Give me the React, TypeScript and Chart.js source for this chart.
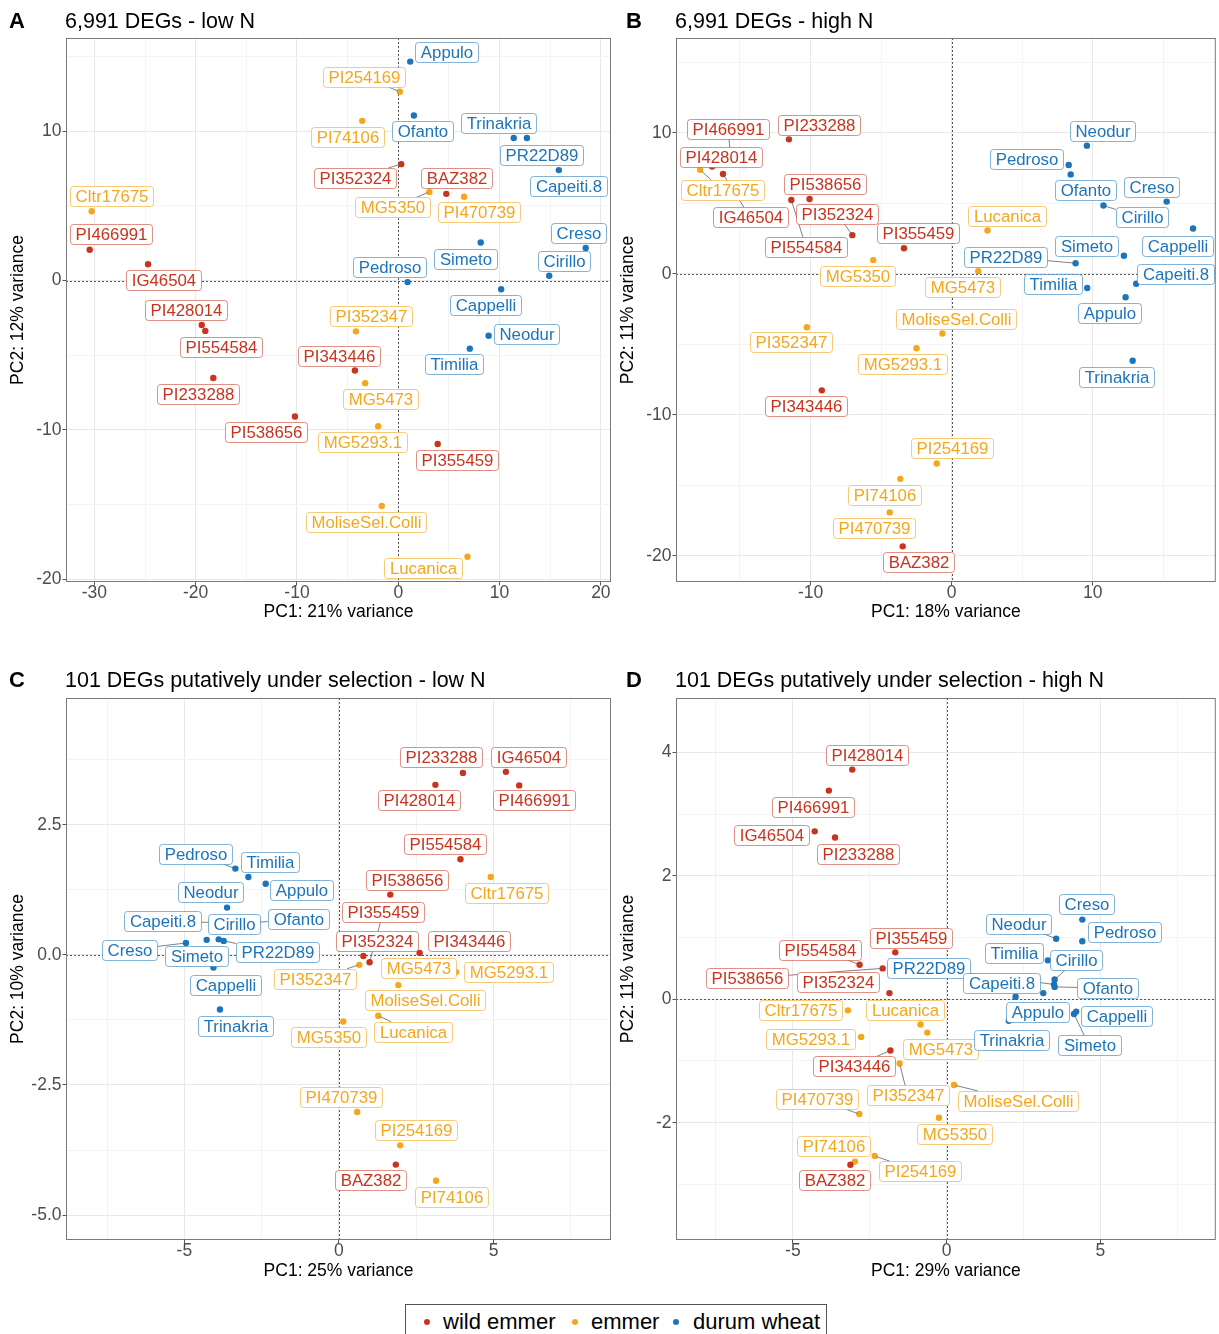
import React, { useEffect, useRef } from "react";
import { Chart, registerables } from "chart.js";

Chart.register(...registerables);

const FONT = '"Liberation Sans", Arial, Helvetica, sans-serif';
Chart.defaults.font.family = FONT;

// ---------------- species ----------------
const SPECIES_CODES = ["W", "E", "D"];
const SPECIES_NAMES = ["wild emmer", "emmer", "durum wheat"];
const SPECIES_COLORS = ["#C8341F", "#F4A71C", "#1C74BA"];
const SPECIES_BORDERS = ["rgba(200,52,31,0.55)", "rgba(244,167,28,0.6)", "rgba(28,116,186,0.55)"];

// ---------------- Panel A: 6,991 DEGs - low N ----------------
const A_names = ["Cltr17675", "PI466991", "IG46504", "PI428014", "PI554584", "PI233288", "PI538656", "Appulo", "PI254169", "PI74106", "Ofanto", "Trinakria", "PR22D89", "Capeiti.8", "PI352324", "BAZ382", "MG5350", "PI470739", "Creso", "Simeto", "Cirillo", "Pedroso", "Cappelli", "PI352347", "Neodur", "Timilia", "PI343446", "MG5473", "MG5293.1", "PI355459", "MoliseSel.Colli", "Lucanica"];
const A_species = ["E", "W", "W", "W", "W", "W", "W", "D", "E", "E", "D", "D", "D", "D", "W", "W", "E", "E", "D", "D", "D", "D", "D", "E", "D", "D", "W", "E", "E", "W", "E", "E"];
const A_pc1 = [-30.26, -30.46, -24.7, -19.4, -19.05, -18.26, -10.2, 1.18, 0.16, -3.56, 1.54, 11.4, 12.7, 15.85, 0.29, 4.74, 3.07, 6.5, 18.5, 8.14, 14.9, 0.92, 10.16, -4.18, 8.92, 7.06, -4.28, -3.27, -1.99, 3.89, -1.63, 6.83];
const A_pc2 = [4.64, 2.07, 1.09, -2.97, -3.37, -6.52, -9.1, 14.67, 12.65, 10.7, 11.06, 9.55, 9.55, 7.4, 7.8, 5.81, 5.94, 5.62, 2.18, 2.55, 0.32, -0.1, -0.58, -3.4, -3.69, -4.56, -6.02, -6.87, -9.76, -10.95, -15.1, -18.5];
const A_labelDx = [20, 21, 15, -15.7, 15.3, -15.7, -28.7, 36.3, -36.3, -14.3, 9, -15, 15, 9.3, -46.7, 10.7, -36.7, 15, -6.7, -15.7, 15, -18, -16, 15, 37.7, -16, -16, 15, -15.3, 19.3, -16, -44.3];
const A_labelDy = [-15, -15.4, 15.8, -14.6, 15.8, 15.8, 15.8, -9.5, -15, 16.2, 15.8, -14.6, 16.6, 15.4, 13.8, -16.2, 15.4, 15.8, -15, 16.2, -15, -14.6, 15.4, -15, -1.6, 15, -14.6, 15.8, 15.8, 15.8, 16, 11.5];

// ---------------- Panel B: 6,991 DEGs - high N ----------------
const B_names = ["PI466991", "PI233288", "PI428014", "Cltr17675", "IG46504", "PI538656", "PI554584", "PI352324", "PI355459", "MG5350", "PI352347", "MG5293.1", "PI343446", "PI254169", "PI74106", "PI470739", "BAZ382", "Neodur", "Pedroso", "Ofanto", "Creso", "Cirillo", "Lucanica", "Cappelli", "Simeto", "PR22D89", "MG5473", "Timilia", "Capeiti.8", "Appulo", "MoliseSel.Colli", "Trinakria"];
const B_species = ["W", "W", "W", "E", "W", "W", "W", "W", "W", "E", "E", "E", "W", "E", "E", "E", "W", "D", "D", "D", "D", "D", "E", "D", "D", "D", "E", "D", "D", "D", "E", "D"];
const B_pc1 = [-15.66, -11.53, -16.97, -17.82, -16.2, -10.07, -11.36, -7.04, -3.38, -5.56, -10.26, -2.49, -9.2, -1.06, -3.64, -4.39, -3.47, 9.58, 8.29, 8.43, 15.23, 10.75, 2.54, 17.1, 12.2, 8.78, 1.88, 9.6, 13.07, 12.32, -0.66, 12.82];
const B_pc2 = [8.36, 9.55, 7.62, 7.39, 7.09, 5.32, 5.24, 2.75, 1.82, 0.98, -3.78, -5.27, -8.26, -13.45, -14.54, -16.92, -19.33, 9.1, 7.73, 7.06, 5.13, 4.85, 3.08, 3.22, 1.29, 0.76, 0.2, -1.0, -0.7, -1.65, -4.23, -6.16];
const B_labelDx = [-2.7, 30.3, 9.3, 22, 27.3, 15.7, 14.7, -15, 13.7, -15.3, -16, -14.5, -15.7, 15.7, -15.7, -15.3, 16, 15.7, -42, 15.3, -15.3, 38.3, 19, -15.3, -37.3, -69.7, -15.7, -34.7, 39.7, -15.7, 13.5, -16];
const B_labelDy = [-27.5, -14.6, -9.1, 20.2, 43.5, -15, 47, -21, -15.2, 15.4, 15, 15.4, 15.4, -15, 15.8, 15.8, 15.4, -15, -5.5, 15.4, -14.6, 11.9, -15, 17.8, -9.9, -6.3, 16.2, -3.6, -9.5, 15.8, -15, 15.8];

// ---------------- Panel C: 101 DEGs - low N ----------------
const C_names = ["Pedroso", "Timilia", "Appulo", "Neodur", "Capeiti.8", "Cirillo", "Ofanto", "Creso", "Simeto", "PR22D89", "Cappelli", "Trinakria", "PI233288", "IG46504", "PI428014", "PI466991", "PI554584", "Cltr17675", "PI538656", "PI355459", "PI352324", "PI343446", "PI352347", "MG5473", "MoliseSel.Colli", "MG5293.1", "Lucanica", "MG5350", "PI470739", "PI254169", "BAZ382", "PI74106"];
const C_species = ["D", "D", "D", "D", "D", "D", "D", "D", "D", "D", "D", "D", "W", "W", "W", "W", "W", "E", "W", "W", "W", "W", "E", "E", "E", "E", "E", "E", "E", "E", "W", "E"];
const C_pc1 = [-3.35, -2.93, -2.37, -3.62, -3.85, -3.89, -3.2, -4.95, -4.28, -3.73, -4.06, -3.85, 4.01, 5.4, 3.12, 5.83, 3.93, 4.91, 1.66, 0.99, 0.79, 2.61, 0.66, 2.41, 1.92, 3.79, 1.27, 0.14, 0.59, 1.98, 1.84, 3.14];
const C_pc2 = [1.66, 1.5, 1.37, 0.91, 0.62, 0.3, 0.6, 0.23, 0.29, 0.27, -0.24, -1.05, 3.5, 3.52, 3.27, 3.26, 1.84, 1.5, 1.16, -0.14, -0.02, 0.04, -0.19, -0.33, -0.58, -0.33, -1.17, -1.28, -3.02, -3.66, -4.03, -4.34];
const C_labelDx = [-39.7, 21.7, 36, -16.3, -57.7, 15.7, 58.2, -56, -10, 54, 12.3, 15.3, -22, 22.7, -16, 15, -15.7, 16, 16.3, 13.7, 14, 49.7, -44.3, 5, 26.7, 52.3, 35, -14.8, -16.3, 16, -25, 15.7];
const C_labelDy = [-15, -15.4, 6.3, -15.8, -1.6, -15, -4.7, 6.8, 15.8, 11, 17.8, 16.2, -15.8, -15, 15.4, 15, -15.4, 16.2, -15, -50, -14.6, -11.9, 13.8, -4, 15, 0, 15.8, 15.8, -15, -15.4, 15.8, 15.8];

// ---------------- Panel D: 101 DEGs - high N ----------------
const D_names = ["PI428014", "PI466991", "IG46504", "PI233288", "PI355459", "PI554584", "PI538656", "PI352324", "PR22D89", "Cltr17675", "Lucanica", "MG5473", "MG5293.1", "PI343446", "PI352347", "PI470739", "MG5350", "MoliseSel.Colli", "PI254169", "PI74106", "BAZ382", "Creso", "Pedroso", "Neodur", "Timilia", "Cirillo", "Ofanto", "Capeiti.8", "Appulo", "Trinakria", "Cappelli", "Simeto"];
const D_species = ["W", "W", "W", "W", "W", "W", "W", "W", "D", "E", "E", "E", "E", "W", "E", "E", "E", "E", "E", "E", "W", "D", "D", "D", "D", "D", "D", "D", "D", "D", "D", "D"];
const D_pc1 = [-3.07, -3.83, -4.29, -3.63, -1.67, -2.83, -2.08, -1.86, 3.49, -3.21, -0.85, -0.63, -2.78, -1.83, -1.53, -2.84, -0.25, 0.24, -2.34, -2.98, -3.13, 4.41, 4.41, 3.56, 3.29, 3.51, 3.51, 2.24, 3.14, 2.02, 4.21, 4.14];
const D_pc2 = [3.72, 3.38, 2.72, 2.62, 0.76, 0.56, 0.5, 0.1, 0.24, -0.18, -0.41, -0.54, -0.61, -0.83, -1.04, -1.86, -1.92, -1.39, -2.54, -2.63, -2.68, 1.29, 0.94, 0.98, 0.63, 0.32, 0.2, 0.04, 0.1, -0.35, -0.2, -0.24];
const D_labelDx = [15, -15.7, -43.3, 23.3, 15.8, -39.3, -135.7, -51.3, -126, -47.3, -16, 13, -50.7, -36.7, 8, -42, 15.3, 64.3, 45, -22, -15.7, 4.3, 42, -37.7, -34.3, 21.7, 53.3, -14, -5.3, 2.7, 40.7, 15];
const D_labelDy = [-15, 16.2, 4, 16.2, -14.6, -15, 9.9, -10.7, -16.3, 0, -14.4, 16.7, 1.6, 15.8, 32, -15, 15.8, 15.8, 15.4, -15.4, 15.8, -15.4, -9.1, -15, -7.1, -19, 1.3, -14, 19, 19, 4.7, 31.2];

// ---------------- layout / style ----------------
const LABEL_FONT = 16.8;
const LABEL_PAD_X = 5.2;
const LABEL_H = 20;
const MIN_SEGMENT = 12.5;
const AXIS_FONT = 17.5;
const GRID_MAJOR = "#E8E8E8";
const GRID_MINOR = "#F4F4F4";

const PANELS = [
  {
    letter: "A", title: "6,991 DEGs - low N", xTitle: "PC1: 21% variance", yTitle: "PC2: 12% variance",
    names: A_names, species: A_species, pc1: A_pc1, pc2: A_pc2, ldx: A_labelDx, ldy: A_labelDy,
    xMin: -32.8, xMax: 21.0, yMin: -20.19, yMax: 16.25, xStep: 10, yStep: 10, yDec: 0,
    left: 0, top: 26, width: 616, height: 602, padTop: 12, padRight: 5, yAxisW: 66, xAxisH: 46,
    yTitlePad: 9.5, xTitlePad: 7.5, letterX: 9, titleX: 65, titleTop: 9,
  },
  {
    letter: "B", title: "6,991 DEGs - high N", xTitle: "PC1: 18% variance", yTitle: "PC2: 11% variance",
    names: B_names, species: B_species, pc1: B_pc1, pc2: B_pc2, ldx: B_labelDx, ldy: B_labelDy,
    xMin: -19.53, xMax: 18.71, yMin: -21.86, yMax: 16.74, xStep: 10, yStep: 10, yDec: 0,
    left: 612, top: 26, width: 607, height: 602, padTop: 12, padRight: 0, yAxisW: 64, xAxisH: 46,
    yTitlePad: 7.5, xTitlePad: 7.5, letterX: 626, titleX: 675, titleTop: 9,
  },
  {
    letter: "C", title: "101 DEGs putatively under selection - low N", xTitle: "PC1: 25% variance", yTitle: "PC2: 10% variance",
    names: C_names, species: C_species, pc1: C_pc1, pc2: C_pc2, ldx: C_labelDx, ldy: C_labelDy,
    xMin: -8.83, xMax: 8.8, yMin: -5.48, yMax: 4.94, xStep: 5, yStep: 2.5, yDec: 1,
    left: 0, top: 686, width: 616, height: 602, padTop: 12, padRight: 5, yAxisW: 66, xAxisH: 48,
    yTitlePad: 9.5, xTitlePad: 8, letterX: 9, titleX: 65, titleTop: 668,
  },
  {
    letter: "D", title: "101 DEGs putatively under selection - high N", xTitle: "PC1: 29% variance", yTitle: "PC2: 11% variance",
    names: D_names, species: D_species, pc1: D_pc1, pc2: D_pc2, ldx: D_labelDx, ldy: D_labelDy,
    xMin: -8.8, xMax: 8.75, yMin: -3.9, yMax: 4.88, xStep: 5, yStep: 2, yDec: 0,
    left: 612, top: 686, width: 607, height: 602, padTop: 12, padRight: 0, yAxisW: 64, xAxisH: 48,
    yTitlePad: 7.5, xTitlePad: 8, letterX: 626, titleX: 675, titleTop: 668,
  },
];

function makeTicks(min: number, max: number, step: number) {
  const half = step / 2;
  const out: { value: number }[] = [];
  const start = Math.ceil(min / half - 1e-9);
  const end = Math.floor(max / half + 1e-9);
  for (let k = start; k <= end; k++) out.push({ value: +(k * half).toFixed(6) });
  return out;
}
function isMajor(v: number, step: number) {
  const r = v / step;
  return Math.abs(r - Math.round(r)) < 1e-6;
}
function fmt(v: number, dec: number) {
  return dec > 0 ? v.toFixed(dec) : String(Math.round(v));
}

function roundRectPath(ctx: CanvasRenderingContext2D, x: number, y: number, w: number, h: number, r: number) {
  ctx.beginPath();
  ctx.moveTo(x + r, y);
  ctx.lineTo(x + w - r, y);
  ctx.arcTo(x + w, y, x + w, y + r, r);
  ctx.lineTo(x + w, y + h - r);
  ctx.arcTo(x + w, y + h, x + w - r, y + h, r);
  ctx.lineTo(x + r, y + h);
  ctx.arcTo(x, y + h, x, y + h - r, r);
  ctx.lineTo(x, y + r);
  ctx.arcTo(x, y, x + r, y, r);
  ctx.closePath();
}

function makePlugin(p: any) {
  return {
    id: "panelDecor" + p.letter,
    beforeDatasetsDraw(chart: any) {
      const { ctx, chartArea: a, scales } = chart;
      const x0 = Math.round(scales.x.getPixelForValue(0)) + 0.5;
      const y0 = Math.round(scales.y.getPixelForValue(0)) + 0.5;
      ctx.save();
      ctx.strokeStyle = "#555555";
      ctx.lineWidth = 1;
      ctx.setLineDash([2, 2]);
      ctx.beginPath();
      ctx.moveTo(x0, a.top);
      ctx.lineTo(x0, a.bottom);
      ctx.moveTo(a.left, y0);
      ctx.lineTo(a.right, y0);
      ctx.stroke();
      ctx.restore();
    },
    afterDatasetsDraw(chart: any) {
      const { ctx, scales } = chart;
      ctx.save();
      ctx.font = `${LABEL_FONT}px ${FONT}`;
      const boxes = p.names.map((name: string, i: number) => {
        const px = scales.x.getPixelForValue(p.pc1[i]);
        const py = scales.y.getPixelForValue(p.pc2[i]);
        const w = Math.round(ctx.measureText(name).width + 2 * LABEL_PAD_X);
        const h = LABEL_H;
        const cx = px + p.ldx[i];
        const cy = py + p.ldy[i];
        const si = SPECIES_CODES.indexOf(p.species[i]);
        return { name, px, py, cx, cy, w, h, si };
      });
      // leader segments
      ctx.strokeStyle = "rgba(90,90,90,0.85)";
      ctx.lineWidth = 0.9;
      for (const b of boxes) {
        const vx = b.px - b.cx;
        const vy = b.py - b.cy;
        const sx = vx === 0 ? Infinity : b.w / 2 / Math.abs(vx);
        const sy = vy === 0 ? Infinity : b.h / 2 / Math.abs(vy);
        const s = Math.min(sx, sy);
        if (s >= 1) continue;
        const len = (1 - s) * Math.hypot(vx, vy);
        if (len < MIN_SEGMENT) continue;
        const ex = b.cx + s * vx;
        const ey = b.cy + s * vy;
        const d = Math.hypot(b.px - ex, b.py - ey);
        const ux = (b.px - ex) / d;
        const uy = (b.py - ey) / d;
        ctx.beginPath();
        ctx.moveTo(ex, ey);
        ctx.lineTo(b.px - ux * 2, b.py - uy * 2);
        ctx.stroke();
      }
      // label boxes
      ctx.textAlign = "center";
      ctx.textBaseline = "middle";
      for (const b of boxes) {
        const l = Math.round(b.cx - b.w / 2) + 0.5;
        const t = Math.round(b.cy - b.h / 2) + 0.5;
        roundRectPath(ctx, l, t, b.w, b.h, 3);
        ctx.fillStyle = "#FFFFFF";
        ctx.fill();
        ctx.strokeStyle = SPECIES_BORDERS[b.si];
        ctx.lineWidth = 1;
        ctx.stroke();
        ctx.fillStyle = SPECIES_COLORS[b.si];
        ctx.fillText(b.name, l + b.w / 2, t + b.h / 2 + 0.5);
      }
      ctx.restore();
    },
    afterDraw(chart: any) {
      const { ctx, chartArea: a } = chart;
      ctx.save();
      ctx.strokeStyle = "#7A7A7A";
      ctx.lineWidth = 1;
      ctx.strokeRect(a.left + 0.5, a.top + 0.5, a.right - a.left - 1, a.bottom - a.top - 1);
      ctx.restore();
    },
  };
}

function buildConfig(p: any) {
  const datasets = SPECIES_CODES.map((code, si) => ({
    label: SPECIES_NAMES[si],
    data: p.names
      .map((_: string, i: number) => ({ x: p.pc1[i], y: p.pc2[i], sp: p.species[i] }))
      .filter((d: any) => d.sp === code),
    backgroundColor: SPECIES_COLORS[si],
    borderWidth: 0,
    pointRadius: 3.2,
    pointHoverRadius: 3.2,
  }));
  const gridFor = (step: number) => ({
    color: (ctx: any) => (ctx.tick && isMajor(ctx.tick.value, step) ? GRID_MAJOR : GRID_MINOR),
    tickColor: (ctx: any) => (ctx.tick && isMajor(ctx.tick.value, step) ? "#555555" : "rgba(0,0,0,0)"),
    lineWidth: 1,
    tickLength: 3.5,
    drawTicks: true,
  });
  return {
    type: "scatter",
    data: { datasets },
    options: {
      responsive: false,
      animation: false,
      devicePixelRatio: 1,
      events: [],
      layout: { padding: { top: p.padTop, right: p.padRight, left: 0, bottom: 0 } },
      plugins: { legend: { display: false }, tooltip: { enabled: false } },
      scales: {
        x: {
          type: "linear",
          min: p.xMin,
          max: p.xMax,
          afterBuildTicks: (s: any) => {
            s.ticks = makeTicks(p.xMin, p.xMax, p.xStep);
          },
          afterFit: (s: any) => {
            s.height = p.xAxisH;
          },
          grid: gridFor(p.xStep),
          border: { display: false },
          ticks: {
            autoSkip: false,
            maxRotation: 0,
            minRotation: 0,
            padding: -1,
            color: "#4D4D4D",
            font: { size: AXIS_FONT, lineHeight: 1 },
            callback: (v: number) => (isMajor(v, p.xStep) ? fmt(v, 0) : ""),
          },
          title: {
            display: true,
            text: p.xTitle,
            color: "#000000",
            font: { size: AXIS_FONT, lineHeight: 1 },
            padding: { top: 0, bottom: p.xTitlePad },
          },
        },
        y: {
          type: "linear",
          min: p.yMin,
          max: p.yMax,
          afterBuildTicks: (s: any) => {
            s.ticks = makeTicks(p.yMin, p.yMax, p.yStep);
          },
          afterFit: (s: any) => {
            s.width = p.yAxisW;
          },
          grid: gridFor(p.yStep),
          border: { display: false },
          ticks: {
            autoSkip: false,
            padding: 1,
            color: "#4D4D4D",
            font: { size: AXIS_FONT, lineHeight: 1 },
            callback: (v: number) => (isMajor(v, p.yStep) ? fmt(v, p.yDec) : ""),
          },
          title: {
            display: true,
            text: p.yTitle,
            color: "#000000",
            font: { size: AXIS_FONT, lineHeight: 1 },
            padding: { top: p.yTitlePad, bottom: 0 },
          },
        },
      },
    },
    plugins: [makePlugin(p)],
  };
}

function Panel({ p }: { p: any }) {
  const ref = useRef<HTMLCanvasElement | null>(null);
  useEffect(() => {
    if (!ref.current) return;
    const chart = new Chart(ref.current, buildConfig(p) as any);
    return () => chart.destroy();
  }, [p]);
  return (
    <>
      <canvas
        ref={ref}
        width={p.width}
        height={p.height}
        style={{ position: "absolute", left: p.left, top: p.top, width: p.width, height: p.height }}
      />
      <div
        style={{
          position: "absolute",
          left: p.letterX,
          top: p.titleTop,
          fontFamily: FONT,
          fontWeight: "bold",
          fontSize: 22,
          lineHeight: "24px",
          color: "#000",
          whiteSpace: "nowrap",
        }}
      >
        {p.letter}
      </div>
      <div
        style={{
          position: "absolute",
          left: p.titleX,
          top: p.titleTop,
          fontFamily: FONT,
          fontSize: 21.5,
          lineHeight: "24px",
          color: "#000",
          whiteSpace: "nowrap",
        }}
      >
        {p.title}
      </div>
    </>
  );
}

const LEGEND_ITEMS = [
  { dotX: 427, textX: 443 },
  { dotX: 575, textX: 591 },
  { dotX: 676, textX: 693 },
];

function Legend() {
  return (
    <>
      <div
        style={{
          position: "absolute",
          left: 405,
          top: 1304,
          width: 422,
          height: 44,
          border: "1px solid #555",
          boxSizing: "border-box",
          background: "#fff",
        }}
      />
      {SPECIES_NAMES.map((name, i) => (
        <React.Fragment key={name}>
          <div
            style={{
              position: "absolute",
              left: LEGEND_ITEMS[i].dotX - 3,
              top: 1322 - 3,
              width: 6,
              height: 6,
              borderRadius: 3,
              background: SPECIES_COLORS[i],
            }}
          />
          <div
            style={{
              position: "absolute",
              left: LEGEND_ITEMS[i].textX,
              top: 1322 - 13,
              fontFamily: FONT,
              fontSize: 22,
              lineHeight: "26px",
              color: "#000",
              whiteSpace: "nowrap",
            }}
          >
            {name}
          </div>
        </React.Fragment>
      ))}
    </>
  );
}

export default function App() {
  return (
    <div
      style={{
        position: "absolute",
        left: 0,
        top: 0,
        width: 1219,
        height: 1334,
        background: "#ffffff",
        overflow: "hidden",
      }}
    >
      {PANELS.map((p) => (
        <Panel key={p.letter} p={p} />
      ))}
      <Legend />
    </div>
  );
}
